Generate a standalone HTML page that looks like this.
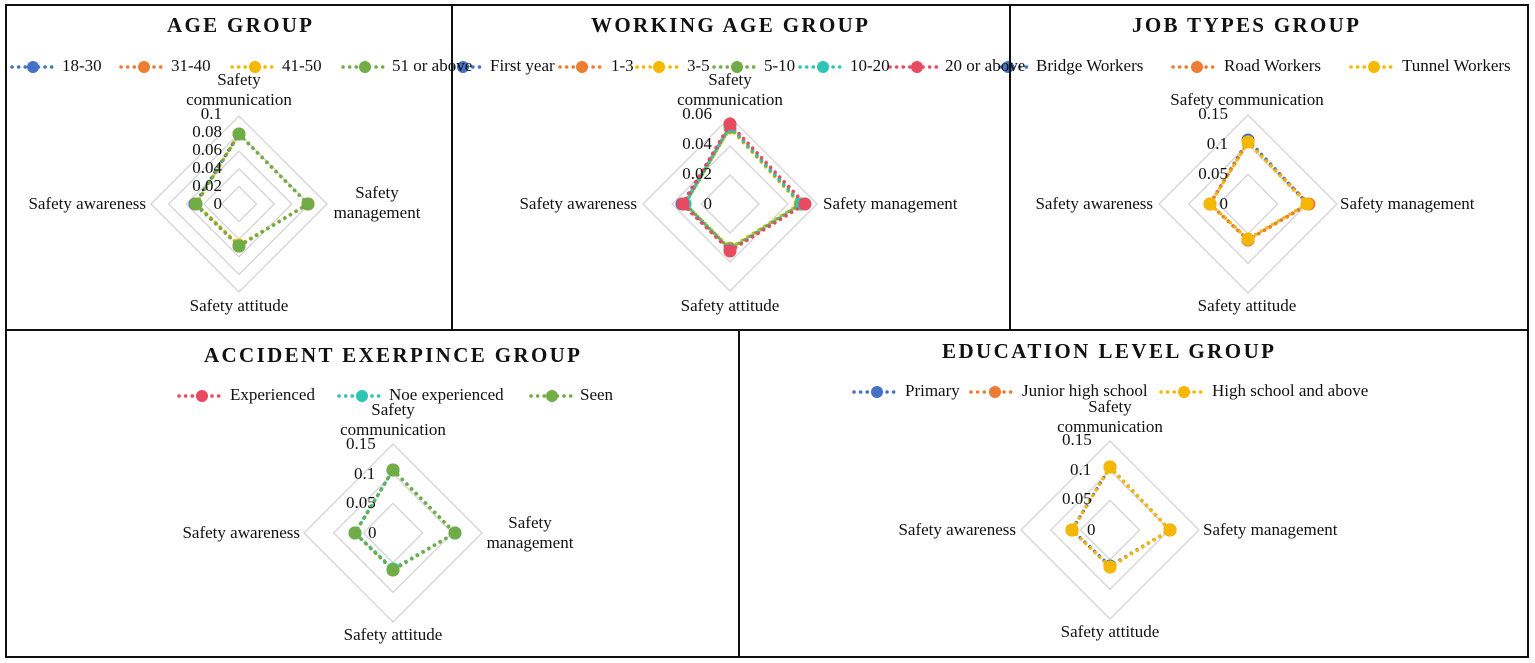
<!DOCTYPE html>
<html><head><meta charset="utf-8"><style>
html,body{margin:0;padding:0;background:#fff;}
svg{display:block;font-family:"Liberation Serif",serif;}
text{fill:#111;}
.t{font-weight:bold;font-size:21px;}
.l{font-size:17px;}
</style></head><body>
<svg id="s" width="1535" height="663" viewBox="0 0 1535 663" xmlns="http://www.w3.org/2000/svg">
<rect x="0" y="0" width="1535" height="663" fill="#fff"/>
<g id="shapes"></g>
<g class="l" dominant-baseline="middle">
<!-- AGE -->
<text class="t" x="167" y="27" textLength="145" lengthAdjust="spacing">AGE GROUP</text>
<text x="62" y="67">18-30</text><text x="171" y="67">31-40</text><text x="282" y="67">41-50</text><text x="392" y="67">51 or above</text>
<text x="239" y="81" text-anchor="middle">Safety</text><text x="239" y="101" text-anchor="middle">communication</text>
<text x="222" y="115" text-anchor="end">0.1</text><text x="222" y="133" text-anchor="end">0.08</text><text x="222" y="151" text-anchor="end">0.06</text><text x="222" y="169" text-anchor="end">0.04</text><text x="222" y="187" text-anchor="end">0.02</text><text x="222" y="205" text-anchor="end">0</text>
<text x="146" y="205" text-anchor="end">Safety awareness</text>
<text x="377" y="194" text-anchor="middle">Safety</text><text x="377" y="214" text-anchor="middle">management</text>
<text x="239" y="307" text-anchor="middle">Safety attitude</text>
<!-- WORKING -->
<text class="t" x="591" y="27" textLength="277" lengthAdjust="spacing">WORKING AGE GROUP</text>
<text x="490" y="67">First year</text><text x="611" y="67">1-3</text><text x="687" y="67">3-5</text><text x="764" y="67">5-10</text><text x="850" y="67">10-20</text><text x="945" y="67">20 or above</text>
<text x="730" y="81" text-anchor="middle">Safety</text><text x="730" y="101" text-anchor="middle">communication</text>
<text x="712" y="115" text-anchor="end">0.06</text><text x="712" y="145" text-anchor="end">0.04</text><text x="712" y="175" text-anchor="end">0.02</text><text x="712" y="205" text-anchor="end">0</text>
<text x="637" y="205" text-anchor="end">Safety awareness</text>
<text x="823" y="205">Safety management</text>
<text x="730" y="307" text-anchor="middle">Safety attitude</text>
<!-- JOB -->
<text class="t" x="1132" y="27" textLength="227" lengthAdjust="spacing">JOB TYPES GROUP</text>
<text x="1036" y="67">Bridge Workers</text><text x="1224" y="67">Road Workers</text><text x="1402" y="67">Tunnel Workers</text>
<text x="1247" y="101" text-anchor="middle">Safety communication</text>
<text x="1228" y="115" text-anchor="end">0.15</text><text x="1228" y="145" text-anchor="end">0.1</text><text x="1228" y="175" text-anchor="end">0.05</text><text x="1228" y="205" text-anchor="end">0</text>
<text x="1153" y="205" text-anchor="end">Safety awareness</text>
<text x="1340" y="205">Safety management</text>
<text x="1247" y="307" text-anchor="middle">Safety attitude</text>
<!-- ACCIDENT -->
<text class="t" x="204" y="357" textLength="376" lengthAdjust="spacing">ACCIDENT EXERPINCE GROUP</text>
<text x="230" y="396">Experienced</text><text x="389" y="396">Noe experienced</text><text x="580" y="396">Seen</text>
<text x="393" y="411" text-anchor="middle">Safety</text><text x="393" y="431" text-anchor="middle">communication</text>
<text x="346" y="445">0.15</text><text x="354" y="475">0.1</text><text x="346" y="504">0.05</text><text x="368" y="534">0</text>
<text x="300" y="534" text-anchor="end">Safety awareness</text>
<text x="530" y="524" text-anchor="middle">Safety</text><text x="530" y="544" text-anchor="middle">management</text>
<text x="393" y="636" text-anchor="middle">Safety attitude</text>
<!-- EDUCATION -->
<text class="t" x="942" y="353" textLength="332" lengthAdjust="spacing">EDUCATION LEVEL GROUP</text>
<text x="905" y="392">Primary</text><text x="1022" y="392">Junior high school</text><text x="1212" y="392">High school and above</text>
<text x="1110" y="408" text-anchor="middle">Safety</text><text x="1110" y="428" text-anchor="middle">communication</text>
<text x="1062" y="441">0.15</text><text x="1070" y="471">0.1</text><text x="1062" y="500">0.05</text><text x="1087" y="531">0</text>
<text x="1016" y="531" text-anchor="end">Safety awareness</text>
<text x="1203" y="531">Safety management</text>
<text x="1110" y="633" text-anchor="middle">Safety attitude</text>
</g>
<g id="borders" stroke="#111" stroke-width="2" fill="none">
<rect x="6" y="5" width="1522" height="652"/>
<line x1="452" y1="5" x2="452" y2="330"/>
<line x1="1010" y1="5" x2="1010" y2="330"/>
<line x1="6" y1="330" x2="1528" y2="330"/>
<line x1="739" y1="330" x2="739" y2="657"/>
</g>
</svg>
<script>
var NS="http://www.w3.org/2000/svg",G=document.getElementById("shapes");
function el(n,a){var e=document.createElementNS(NS,n);for(var k in a)e.setAttribute(k,a[k]);G.appendChild(e);return e;}
var C={b:"#4472C4",o:"#ED7D31",y:"#F5B800",g:"#70AD47",t:"#2EC4B6",r:"#E84A5F"};
var DA="0.1 6.5";
function dot(x1,x2,y,mx,c){el("line",{x1:x1,y1:y,x2:x2,y2:y,stroke:c,"stroke-width":3.5,"stroke-dasharray":DA,"stroke-linecap":"round"});el("circle",{cx:mx,cy:y,r:6,fill:c});}
function radar(cx,cy,R,n,ser){
 for(var i=1;i<=n;i++){var r=R*i/n;el("polygon",{points:[cx,cy-r,cx+r,cy,cx,cy+r,cx-r,cy].join(" "),fill:"none",stroke:"#d4d4d4","stroke-width":1.3});}
 ser.forEach(function(s){var c=C[s[0]],v=s[1];var p=[[cx,cy-v[0]],[cx+v[1],cy],[cx,cy+v[2]],[cx-v[3],cy]];
  el("polygon",{points:p.map(function(q){return q.join(",")}).join(" "),fill:"none",stroke:c,"stroke-width":3.5,"stroke-dasharray":DA,"stroke-linecap":"round"});
  p.forEach(function(q){el("circle",{cx:q[0],cy:q[1],r:6.5,fill:c});});});
}
dot(12,55,67,33,C.b);dot(121,166,67,144,C.o);dot(232,277,67,255,C.y);dot(343,388,67,365,C.g);
dot(453,486,67,463,C.b);dot(560,605,67,582,C.o);dot(637,683,67,659,C.y);dot(714,760,67,737,C.g);dot(800,845,67,823,C.t);dot(890,940,67,917,C.r);
dot(1000,1031,67,1008,C.b);dot(1173,1218,67,1197,C.o);dot(1351,1396,67,1374,C.y);
dot(179,222,396,202,C.r);dot(339,383,396,362,C.t);dot(531,574,396,552,C.g);
dot(854,900,392,877,C.b);dot(971,1016,392,995,C.o);dot(1161,1205,392,1184,C.y);
radar(239,204,88,5,[["b",[70,69,42,44]],["o",[70,69,42,43]],["y",[70,69,41,43]],["g",[70,69,42,43]]]);
radar(730,204,87,3,[["b",[78,72,46,48]],["o",[78,72,46,46]],["y",[76,70,44,45]],["g",[77,71,45,45]],["t",[78,72,46,45]],["r",[80,75,47,47]]]);
radar(1248,204,89,3,[["b",[64,60,36,38]],["o",[62,61,36,38]],["y",[62,59,35,38]]]);
radar(393,533,89,3,[["r",[63,62,37,38]],["t",[63,62,36,38]],["g",[63,62,37,38]]]);
radar(1110,530,89,3,[["b",[63,60,36,38]],["o",[63,60,37,38]],["y",[63,60,37,38]]]);
</script>
</body></html>
